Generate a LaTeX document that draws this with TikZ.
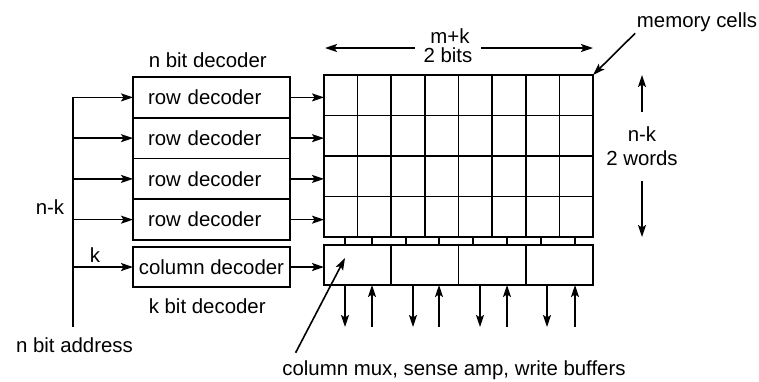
\documentclass[tikz,border=0pt]{standalone}
\usepackage{fontspec}
\setmainfont{Liberation Sans}
\usetikzlibrary{arrows.meta,positioning}
\tikzset{
  >={Stealth[length=12pt,width=8pt,inset=2.5pt]},
  lbl/.style={inner sep=1pt, font=\fontsize{20.4}{24}\selectfont},
  dec/.style={
    draw, rectangle, outer sep=0pt, minimum height=40.75pt,
    font=\fontsize{20.4}{24}\selectfont
  },
  rowdec/.style={dec, align=left, text width=127pt, inner xsep=15pt},
  coldec/.style={dec, minimum width=157pt, inner xsep=0pt, minimum height=40pt},
  array/.style={draw, rectangle, outer sep=0pt, minimum width=269pt, minimum height=162pt},
  muxbox/.style={draw, rectangle, outer sep=0pt, minimum width=269pt, minimum height=40pt},
}
\begin{document}
\begin{tikzpicture}[x=1pt, y=-1pt, line width=1.6pt, node distance=0pt]
  \useasboundingbox (0,0) rectangle (759,381);
  % decoders
  \node[rowdec] (r1) at (211.5,97.4) {row decoder};
  \node[rowdec, below=of r1] (r2) {row decoder};
  \node[rowdec, below=of r2] (r3) {row decoder};
  \node[rowdec, below=of r3] (r4) {row decoder};
  \node[coldec, below=7pt of r4] (cd) {column decoder};
  \node[lbl, anchor=south west] (ndec) at ([shift={(14pt,8pt)}]r1.north west) {n bit decoder};
  \node[lbl, anchor=north west] (kdec) at ([shift={(14pt,-10pt)}]cd.south west) {k bit decoder};
  % memory array
  \node[array] (cells) at (458.5,156) {};
  \foreach \i in {1,...,7}
    \draw ([xshift=\i*33.625pt]cells.north west) -- ([xshift=\i*33.625pt]cells.south west);
  \foreach \j in {1,2,3}
    \draw ([yshift=-\j*40.5pt]cells.north west) -- ([yshift=-\j*40.5pt]cells.north east);
  \node[muxbox, below=8pt of cells] (mux) {};
  \foreach \i in {1,2,3}
    \draw ([xshift=\i*67.25pt]mux.north west) -- ([xshift=\i*67.25pt]mux.south west);
  \foreach \x in {21,48,82,115,149,183,217,251}
    \draw ([xshift=\x pt]cells.south west) -- ([xshift=\x pt]mux.north west);
  \foreach \x in {21,89,156,223} {
    \coordinate (o\x) at ([shift={(\x pt,-42pt)}]mux.south west);
    \draw[->] (o\x |- mux.south) -- (o\x);
  }
  \foreach \x in {48,115,183,251} {
    \coordinate (i\x) at ([shift={(\x pt,-42pt)}]mux.south west);
    \draw[->] (i\x) -- (i\x |- mux.south);
  }
  % address bus
  \coordinate (bus) at (73,327);
  \draw (bus) -- (bus |- r1.west);
  \foreach \n in {r1,r2,r3,r4,cd}
    \draw[->] (bus |- \n.west) -- (\n.west);
  \foreach \n in {r1,r2,r3,r4}
    \draw[->] (\n.east) -- (cells.west |- \n.east);
  \draw[->] (cd.east) -- (mux.west |- cd.east);
  \node[lbl] (nk) at (50,207) {n-k};
  \node[lbl] (k) at (95,255) {k};
  \node[lbl] (addr) at (74.5,345) {n bit address};
  % sizes
  \node[lbl] (mk) at (450,36) {m+k};
  \node[lbl, inner xsep=8pt] (bits) at (448,55) {2 bits};
  \coordinate (wl) at (325,48);
  \coordinate (wr) at (593,48);
  \draw[->] (wl -| bits.west) -- (wl);
  \draw[->] (wr -| bits.east) -- (wr);
  \node[lbl, align=center, inner ysep=14pt] (words) at (642,146.5) {n-k\\2 words};
  \coordinate (ht) at (642,75);
  \coordinate (hb) at (642,237);
  \draw[->] (words.north) -- (ht);
  \draw[->] (words.south) -- (hb);
  % callouts
  \node[lbl] (mem) at (697,22) {memory cells};
  \draw[->] (mem.south west) -- (cells.north east);
  \node[lbl] (muxlbl) at (454,370) {column mux, sense amp, write buffers};
  \draw[->] ([shift={(15pt,6pt)}]muxlbl.north west) -- ([shift={(21pt,-13pt)}]mux.north west);
\end{tikzpicture}
\end{document}
